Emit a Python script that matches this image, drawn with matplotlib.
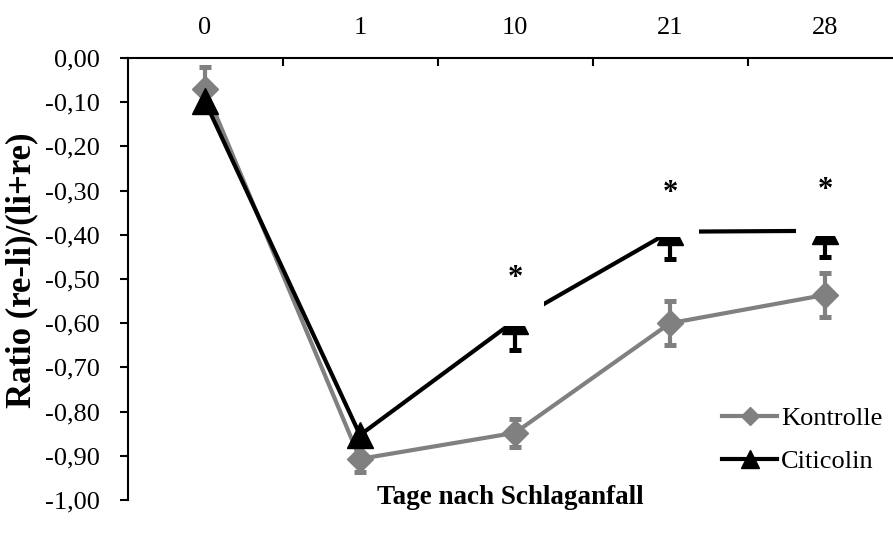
import matplotlib
matplotlib.use("Agg")
import matplotlib.pyplot as plt
from matplotlib.patches import Rectangle
from matplotlib.lines import Line2D
from matplotlib.ticker import FuncFormatter, FixedLocator

plt.rcParams['font.family'] = ['Liberation Serif', 'DejaVu Serif']

days = ["0", "1", "10", "21", "28"]
kontrolle = [-0.070, -0.907, -0.848, -0.600, -0.536]
kontrolle_err = [0.05, 0.03, 0.032, 0.05, 0.05]
citicolin = [-0.098, -0.853, -0.594, -0.393, -0.391]
citicolin_err = [0.02, 0.02, 0.067, 0.062, 0.059]
sig_idx = [2, 3, 4]
sig_y = [-0.498, -0.307, -0.300]

W, H = 893, 539
fig = plt.figure(figsize=(W / 100, H / 100), dpi=100)
left_px, right_px, top_px, bot_px = 127.5, 902.5, 58, 500
ax = fig.add_axes([left_px / W, 1 - bot_px / H, (right_px - left_px) / W, (bot_px - top_px) / H])

x = list(range(len(days)))
gray = "#808080"

ax.errorbar(x, kontrolle, yerr=kontrolle_err, color=gray, lw=3, marker='D', ms=13,
            mec=gray, mfc=gray, ecolor=gray, elinewidth=3, capsize=4.3, capthick=3.6,
            zorder=2)
ax.errorbar(x, citicolin, yerr=[citicolin_err, [0] * len(x)], color='black', lw=3, marker='^', ms=18.5,
            mec='black', mfc='black', ecolor='black', elinewidth=3, capsize=4.3, capthick=3.6,
            zorder=3)

# white label boxes behind the significance stars (hide upper part of markers/line)
for i, sy in zip(sig_idx, sig_y):
    bottom = citicolin[i] - 0.012
    ax.add_patch(Rectangle((i - 0.19, bottom), 0.38, sy + 0.05 - bottom,
                           facecolor='white', edgecolor='none', zorder=4))
    ax.text(i, sy, "*", ha='center', va='center', fontsize=22, fontweight='bold', zorder=5)

ax.set_xlim(-0.5, len(days) - 0.5)
ax.set_ylim(-1.0, 0.0)
ax.set_yticks([-1.0 + 0.1 * k for k in range(11)])
ax.yaxis.set_major_formatter(FuncFormatter(lambda v, p: f"{v:.2f}".replace('.', ',').replace('-0,00', '0,00')))
ax.tick_params(axis='y', direction='out', length=6, width=1.5, pad=14, labelsize=19)

ax.xaxis.tick_top()
ax.set_xticks(x)
ax.set_xticklabels(days)
ax.xaxis.set_minor_locator(FixedLocator([0.5, 1.5, 2.5, 3.5]))
ax.tick_params(axis='x', which='major', length=0, pad=14, labelsize=19)
ax.tick_params(axis='x', which='minor', direction='in', length=6, width=1.5, top=True, bottom=False)

for s in ['right', 'bottom']:
    ax.spines[s].set_visible(False)
for s in ['left', 'top']:
    ax.spines[s].set_linewidth(1.5)

ax.set_ylabel("Ratio (re-li)/(li+re)", fontsize=25, fontweight='bold', va='center', ha='center')
ax.yaxis.set_label_coords(22 / W, 1 - 270 / H, transform=fig.transFigure)
fig.text(510 / W, 1 - 497 / H, "Tage nach Schlaganfall", ha='center', va='center',
         fontsize=19.5, fontweight='bold')

handles = [Line2D([], [], color=gray, lw=3, marker='D', ms=9, mec=gray, mfc=gray),
           Line2D([], [], color='black', lw=3, marker='^', ms=13, mec='black', mfc='black')]
leg = ax.legend(handles, ["Kontrolle", "Citicolin"], loc='center left',
                bbox_to_anchor=(722 / W, 1 - 440 / H), bbox_transform=fig.transFigure,
                frameon=False, fontsize=19, handlelength=2.1, handletextpad=0.15, labelspacing=0.75,
                borderpad=0, borderaxespad=0)

fig.savefig("out.png", dpi=100)
